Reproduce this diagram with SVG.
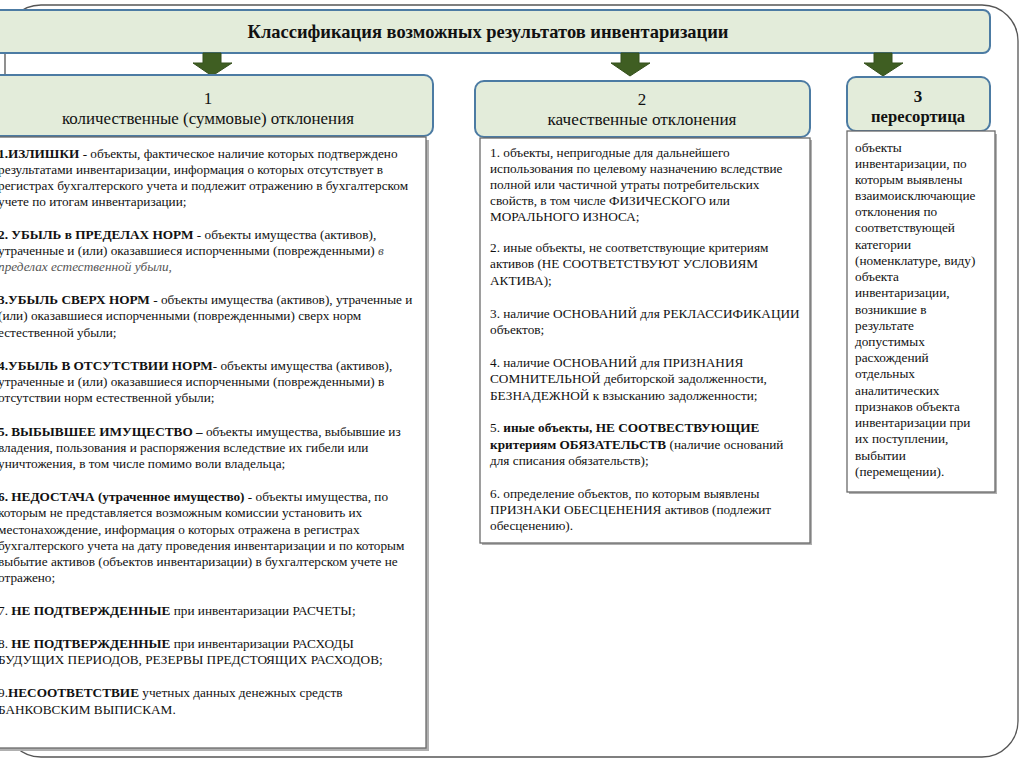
<svg xmlns="http://www.w3.org/2000/svg" width="1024" height="767" viewBox="0 0 1024 767">
<defs>
<style>
.hdr{fill:#e3ecda;stroke:#4c7ba3;stroke-width:2}
.body{fill:#fff;stroke:#6a6a6a;stroke-width:1.3}
.shadow{fill:#b0b0b0}
.t{font-family:"Liberation Serif","Times New Roman","DejaVu Serif",serif;font-size:13.25px;fill:#111}
.h{font-family:"Liberation Serif","Times New Roman","DejaVu Serif",serif;font-size:17px;fill:#111;text-anchor:middle}
.ttl{font-size:19px}
.b{font-weight:bold}
.i{font-style:italic;fill:#555}
.arrow{fill:#3f5e22;stroke:#35501c;stroke-width:1}
</style>
</defs>
<rect x="0" y="0" width="1024" height="767" fill="#fff"/>
<rect id="frame" x="5" y="5" width="1013" height="752" rx="36" fill="none" stroke="#555" stroke-width="1.3"/>

<g id="title">
<rect class="hdr" x="-20" y="10" width="1010" height="43" rx="7"/>
<text class="h b ttl" x="488" y="38" textLength="481" lengthAdjust="spacingAndGlyphs">Классификация возможных результатов инвентаризации</text>
</g>

<g id="connectors">
<path class="arrow" d="M203,53 H221 V63 H232 L212,76 L193,63 H203 Z"/>
<path class="arrow" d="M621,53 H639 V63 H650 L630,76 L611,63 H621 Z"/>
<path class="arrow" d="M874,53 H892 V63 H903 L883,76 L864,63 H874 Z"/>
</g>

<g id="cat1">
<rect class="hdr" x="-20" y="75" width="453" height="61" rx="9"/>
<text class="h" x="208" y="104">1</text>
<text class="h" x="208" y="124" textLength="292" lengthAdjust="spacingAndGlyphs">количественные (суммовые) отклонения</text>
<rect class="shadow" x="-3" y="140" width="432" height="611"/>
<rect class="body" x="-5" y="137" width="431" height="611"/>
<text class="t" x="-2" y="158"><tspan class="b">1.ИЗЛИШКИ</tspan> - объекты, фактическое наличие которых подтверждено</text>
<text class="t" x="-2" y="174">результатами инвентаризации, информация о которых отсутствует в</text>
<text class="t" x="-2" y="190">регистрах бухгалтерского учета и подлежит отражению в бухгалтерском</text>
<text class="t" x="-2" y="206">учете по итогам инвентаризации;</text>
<text class="t" x="-2" y="239"><tspan class="b">2. УБЫЛЬ в ПРЕДЕЛАХ НОРМ</tspan> - объекты имущества (активов),</text>
<text class="t" x="-2" y="255">утраченные и (или) оказавшиеся испорченными (поврежденными) <tspan class="i">в</tspan></text>
<text class="t" x="-2" y="271"><tspan class="i">пределах естественной убыли,</tspan></text>
<text class="t" x="-2" y="304"><tspan class="b">3.УБЫЛЬ СВЕРХ НОРМ</tspan> - объекты имущества (активов), утраченные и</text>
<text class="t" x="-2" y="320">(или) оказавшиеся испорченными (поврежденными) сверх норм</text>
<text class="t" x="-2" y="337">естественной убыли;</text>
<text class="t" x="-2" y="370"><tspan class="b">4.УБЫЛЬ В ОТСУТСТВИИ НОРМ</tspan>-  объекты имущества (активов),</text>
<text class="t" x="-2" y="386">утраченные и (или) оказавшиеся испорченными (поврежденными) в</text>
<text class="t" x="-2" y="402">отсутствии норм естественной убыли;</text>
<text class="t" x="-2" y="436"><tspan class="b">5. ВЫБЫВШЕЕ ИМУЩЕСТВО –</tspan> объекты имущества, выбывшие из</text>
<text class="t" x="-2" y="452">владения, пользования и распоряжения вследствие их гибели или</text>
<text class="t" x="-2" y="468">уничтожения, в том числе помимо воли владельца;</text>
<text class="t" x="-2" y="501"><tspan class="b">6. НЕДОСТАЧА (утраченное имущество)</tspan> - объекты имущества, по</text>
<text class="t" x="-2" y="517">которым не представляется возможным комиссии установить их</text>
<text class="t" x="-2" y="534">местонахождение, информация о которых отражена в регистрах</text>
<text class="t" x="-2" y="550">бухгалтерского учета на дату проведения инвентаризации и по которым</text>
<text class="t" x="-2" y="566">выбытие активов (объектов инвентаризации) в бухгалтерском учете не</text>
<text class="t" x="-2" y="582">отражено;</text>
<text class="t" x="-2" y="615">7. <tspan class="b">НЕ ПОДТВЕРЖДЕННЫЕ</tspan> при инвентаризации РАСЧЕТЫ;</text>
<text class="t" x="-2" y="648">8. <tspan class="b">НЕ ПОДТВЕРЖДЕННЫЕ</tspan> при инвентаризации РАСХОДЫ</text>
<text class="t" x="-2" y="664">БУДУЩИХ ПЕРИОДОВ, РЕЗЕРВЫ ПРЕДСТОЯЩИХ РАСХОДОВ;</text>
<text class="t" x="-2" y="697">9.<tspan class="b">НЕСООТВЕТСТВИЕ</tspan> учетных данных денежных средств</text>
<text class="t" x="-2" y="714">БАНКОВСКИМ ВЫПИСКАМ.</text>
</g>

<g id="cat2">
<rect class="hdr" x="475" y="81" width="335" height="56" rx="9"/>
<text class="h" x="642" y="105">2</text>
<text class="h" x="642" y="125" textLength="189" lengthAdjust="spacingAndGlyphs">качественные отклонения</text>
<rect class="shadow" x="482" y="140" width="330" height="405"/>
<rect class="body" x="480" y="138" width="330" height="405"/>
<text class="t" x="490" y="157">1. объекты, непригодные для дальнейшего</text>
<text class="t" x="490" y="173">использования по целевому назначению вследствие</text>
<text class="t" x="490" y="189">полной или частичной утраты потребительских</text>
<text class="t" x="490" y="205">свойств, в том числе ФИЗИЧЕСКОГО или</text>
<text class="t" x="490" y="221">МОРАЛЬНОГО ИЗНОСА;</text>
<text class="t" x="490" y="252">2. иные объекты, не соответствующие критериям</text>
<text class="t" x="490" y="268">активов (НЕ СООТВЕТСТВУЮТ УСЛОВИЯМ</text>
<text class="t" x="490" y="285">АКТИВА);</text>
<text class="t" x="490" y="318">3. наличие ОСНОВАНИЙ для РЕКЛАССИФИКАЦИИ</text>
<text class="t" x="490" y="334">объектов;</text>
<text class="t" x="490" y="367">4. наличие ОСНОВАНИЙ для ПРИЗНАНИЯ</text>
<text class="t" x="490" y="383">СОМНИТЕЛЬНОЙ дебиторской задолженности,</text>
<text class="t" x="490" y="400">БЕЗНАДЕЖНОЙ к взысканию задолженности;</text>
<text class="t" x="490" y="432">5. <tspan class="b">иные объекты, НЕ СООТВЕСТВУЮЩИЕ</tspan></text>
<text class="t" x="490" y="449"><tspan class="b">критериям ОБЯЗАТЕЛЬСТВ</tspan> (наличие оснований</text>
<text class="t" x="490" y="465">для списания обязательств);</text>
<text class="t" x="490" y="498">6. определение объектов, по которым выявлены</text>
<text class="t" x="490" y="514">ПРИЗНАКИ ОБЕСЦЕНЕНИЯ активов (подлежит</text>
<text class="t" x="490" y="530">обесценению).</text>
</g>

<g id="cat3">
<rect class="hdr" x="847" y="77" width="143" height="54" rx="9"/>
<text class="h b" x="918" y="102">3</text>
<text class="h b" x="918" y="122" textLength="94" lengthAdjust="spacingAndGlyphs">пересортица</text>
<rect class="shadow" x="849" y="134" width="148" height="360"/>
<rect class="body" x="847" y="131" width="148" height="361"/>
<text class="t" x="855" y="152">объекты</text>
<text class="t" x="855" y="168">инвентаризации, по</text>
<text class="t" x="855" y="184">которым выявлены</text>
<text class="t" x="855" y="200">взаимоисключающие</text>
<text class="t" x="855" y="216">отклонения по</text>
<text class="t" x="855" y="232">соответствующей</text>
<text class="t" x="855" y="249">категории</text>
<text class="t" x="855" y="265">(номенклатуре, виду)</text>
<text class="t" x="855" y="281">объекта</text>
<text class="t" x="855" y="297">инвентаризации,</text>
<text class="t" x="855" y="314">возникшие в</text>
<text class="t" x="855" y="330">результате</text>
<text class="t" x="855" y="346">допустимых</text>
<text class="t" x="855" y="362">расхождений</text>
<text class="t" x="855" y="378">отдельных</text>
<text class="t" x="855" y="395">аналитических</text>
<text class="t" x="855" y="411">признаков объекта</text>
<text class="t" x="855" y="427">инвентаризации при</text>
<text class="t" x="855" y="443">их поступлении,</text>
<text class="t" x="855" y="460">выбытии</text>
<text class="t" x="855" y="476">(перемещении).</text>
</g>
</svg>
